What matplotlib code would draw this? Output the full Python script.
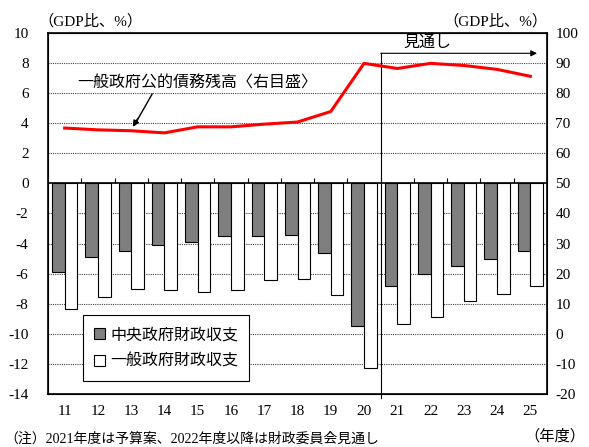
import numpy as np
import matplotlib.pyplot as plt
from matplotlib.patches import Patch

plt.rcParams["font.family"] = ["Liberation Serif", "Noto Sans CJK JP", "DejaVu Sans"]
plt.rcParams["axes.unicode_minus"] = False
JP = ["Noto Sans CJK JP", "DejaVu Sans"]

years = ["11", "12", "13", "14", "15", "16", "17", "18", "19", "20",
         "21", "22", "23", "24", "25"]
central = [-5.9, -4.9, -4.5, -4.1, -3.9, -3.5, -3.5, -3.4, -4.6, -9.5,
           -6.8, -6.0, -5.5, -5.0, -4.5]
general = [-8.35, -7.55, -7.0, -7.1, -7.2, -7.1, -6.4, -6.35, -7.45, -12.3,
           -9.35, -8.85, -7.8, -7.35, -6.8]
debt = [68.4, 67.8, 67.5, 66.8, 68.8, 68.8, 69.7, 70.4, 73.9, 89.9,
        88.2, 89.9, 89.2, 87.9, 85.6]
forecast_start = "21"

x = np.arange(len(years))
w = 0.38

fig = plt.figure(figsize=(5.89, 4.47), dpi=100)
ax = fig.add_axes([0.0815, 0.1186, 0.8472, 0.8076])

ax.set_ylim(-14, 10)
ax.set_xlim(-0.5, len(years) - 0.5)
ax.set_yticks(range(-14, 11, 2))
for y in range(-14, 11, 2):
    if y != 0:
        ax.axhline(y, color="#444444", lw=0.8, ls=(0, (1, 1)), zorder=1)

ax.bar(x - w / 2, central, w, color="#7f7f7f", edgecolor="black", lw=0.8, zorder=3)
ax.bar(x + w / 2, general, w, color="white", edgecolor="black", lw=0.8, zorder=3)
ax.axhline(0, color="black", lw=1.2, zorder=4)
ax.vlines(x[:-1] + 0.5, 0, 0.35, color="black", lw=0.8, zorder=4)

ax.set_xticks(x)
ax.set_xticklabels(years, fontsize=11)
ax.tick_params(axis="x", length=0, pad=8)
ax.tick_params(axis="y", length=0, labelsize=11, pad=14)
for s in ax.spines.values():
    s.set_linewidth(1.2)

# debt ratio on the right-hand scale
ax2 = ax.twinx()
ax2.set_ylim(-20, 100)
ax2.set_yticks(range(-20, 101, 10))
ax2.tick_params(axis="y", length=0, labelsize=11, pad=6)
ax2.plot(x, debt, color="#ff0000", lw=2.2, zorder=5)
ax2.set_xlim(-0.5, len(years) - 0.5)

# forecast marker
fx = years.index(forecast_start) - 0.5
ax.plot([fx, fx], [-14.3, 8.65], color="black", lw=0.8, clip_on=False, zorder=4)
ax.annotate("", xy=(14.2, 8.65), xytext=(fx, 8.65),
            arrowprops=dict(arrowstyle="-|>", color="black", lw=0.8,
                            mutation_scale=9, shrinkA=0, shrinkB=0))
ax.text(10.9, 8.8, "見通し", family=JP, fontsize=11.5, ha="center", va="bottom")

# label for the red line, with a pointer down to it
ax2.text(0.38, 83.5, "一般政府公的債務残高〈右目盛〉", family=JP, fontsize=11.5,
         ha="left", va="center")
ax2.plot([2.63, 2.1], [79.7, 69.4], color="black", lw=1.0, zorder=8)
ax2.annotate("", xy=(2.05, 68.8), xytext=(2.2, 71.6),
             arrowprops=dict(arrowstyle="-|>", color="black", lw=1.0,
                             mutation_scale=9, shrinkA=0, shrinkB=0),
             zorder=8)

handles = [Patch(facecolor="#7f7f7f", edgecolor="black", lw=0.8),
           Patch(facecolor="white", edgecolor="black", lw=0.8)]
leg = ax.legend(handles, ["中央政府財政収支", "一般政府財政収支"],
                loc="lower left", bbox_to_anchor=(0.07, 0.036),
                borderaxespad=0, fancybox=False, framealpha=1,
                edgecolor="black", handlelength=0.7, handleheight=0.7,
                handletextpad=0.3, labelspacing=0.6, borderpad=0.7,
                prop={"family": JP, "size": 11.5})
leg.get_frame().set_linewidth(0.8)
leg.set_zorder(6)

fig.text(38 / 589, 1 - 21 / 447, "（GDP比、%）", fontsize=11, ha="left", va="center")
fig.text(547 / 589, 1 - 21 / 447, "（GDP比、%）", fontsize=11, ha="right", va="center")
fig.text(585 / 589, 1 - 436 / 447, "（年度）", fontsize=11, ha="right", va="center")
fig.text(4 / 589, 1 - 446 / 447, "（注）2021年度は予算案、2022年度以降は財政委員会見通し",
         fontsize=10, ha="left", va="bottom")

fig.savefig("out.png", dpi=100)
